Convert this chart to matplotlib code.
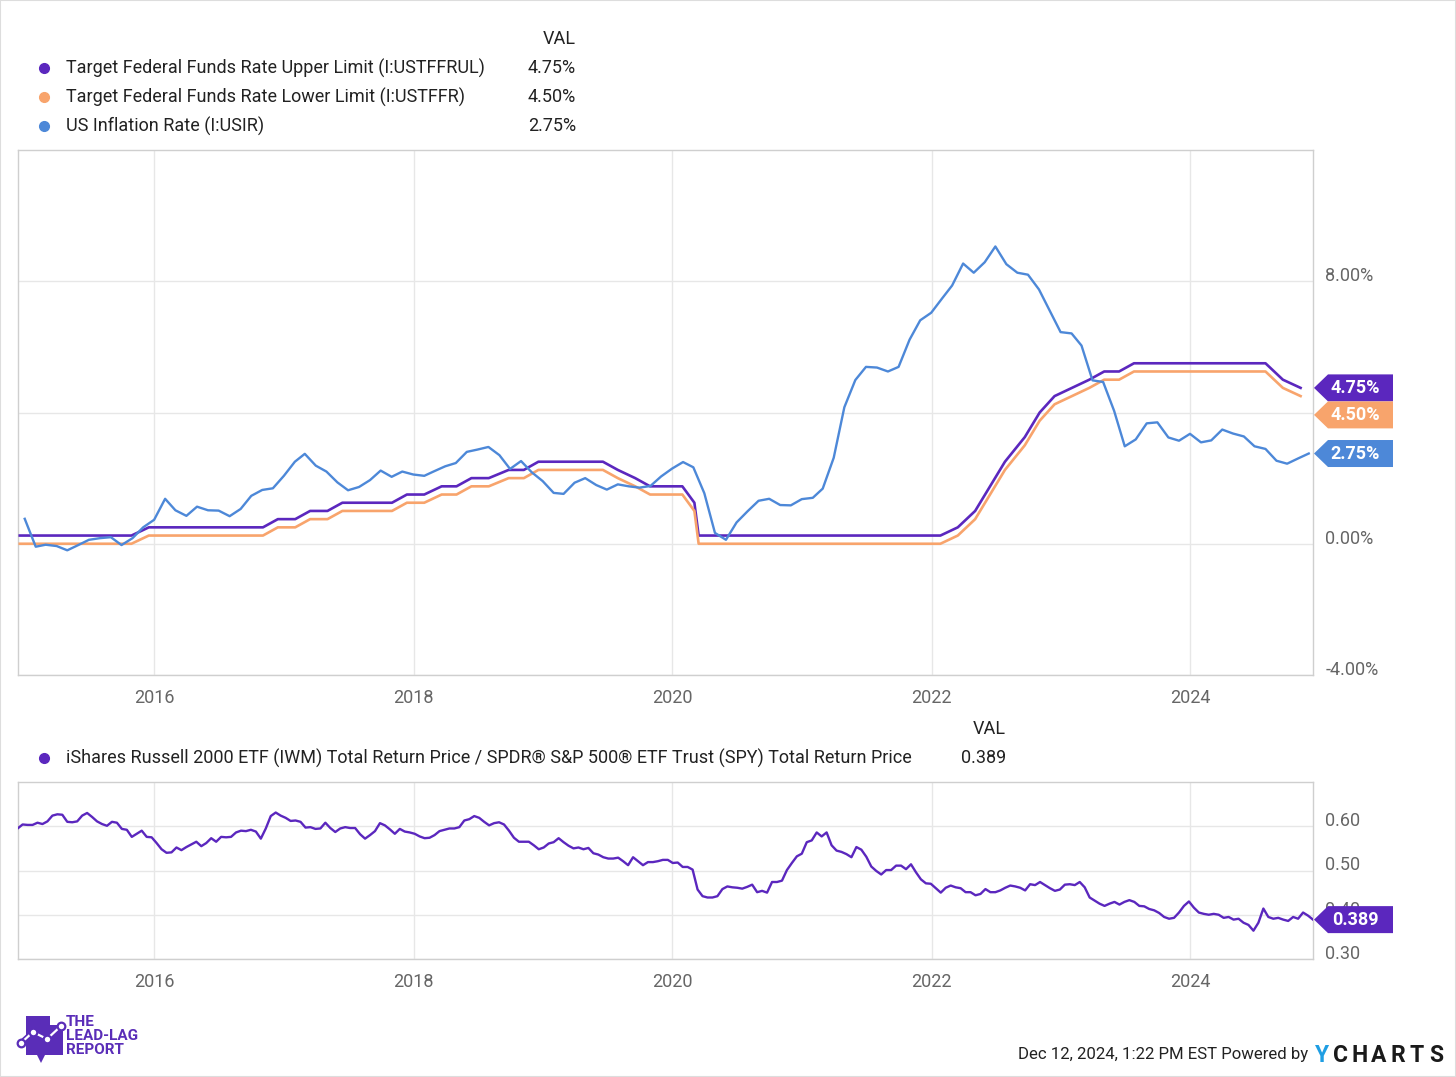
"""
plot.py
Fed funds target range vs US inflation, plus IWM/SPY total return ratio.
Rebuild of a YCharts style two panel chart.
"""

import matplotlib
matplotlib.use("Agg")
import numpy as np
import pandas as pd
import matplotlib.pyplot as plt
import matplotlib.dates as mdates
from matplotlib.patches import Polygon, Rectangle
from matplotlib.lines import Line2D

plt.rcParams["font.family"] = ["Roboto", "DejaVu Sans"]

# 1. Data

# FOMC decision dates, target range upper / lower limit (%)
fomc_dates = [
    "2014-12-17",
    "2015-01-28", "2015-03-18", "2015-04-29", "2015-06-17", "2015-07-29", "2015-09-17", "2015-10-28", "2015-12-16",
    "2016-01-27", "2016-03-16", "2016-04-27", "2016-06-15", "2016-07-27", "2016-09-21", "2016-11-02", "2016-12-14",
    "2017-02-01", "2017-03-15", "2017-05-03", "2017-06-14", "2017-07-26", "2017-09-20", "2017-11-01", "2017-12-13",
    "2018-01-31", "2018-03-21", "2018-05-02", "2018-06-13", "2018-08-01", "2018-09-26", "2018-11-08", "2018-12-19",
    "2019-01-30", "2019-03-20", "2019-05-01", "2019-06-19", "2019-07-31", "2019-09-18", "2019-10-30", "2019-12-11",
    "2020-01-29", "2020-03-03", "2020-03-15", "2020-04-29", "2020-06-10", "2020-07-29", "2020-09-16", "2020-11-05", "2020-12-16",
    "2021-01-27", "2021-03-17", "2021-04-28", "2021-06-16", "2021-07-28", "2021-09-22", "2021-11-03", "2021-12-15",
    "2022-01-26", "2022-03-16", "2022-05-04", "2022-06-15", "2022-07-27", "2022-09-21", "2022-11-02", "2022-12-14",
    "2023-02-01", "2023-03-22", "2023-05-03", "2023-06-14", "2023-07-26", "2023-09-20", "2023-11-01", "2023-12-13",
    "2024-01-31", "2024-03-20", "2024-05-01", "2024-06-12", "2024-07-31", "2024-09-18", "2024-11-07",
]

upper_limit = [
    0.25,
    0.25, 0.25, 0.25, 0.25, 0.25, 0.25, 0.25, 0.50,
    0.50, 0.50, 0.50, 0.50, 0.50, 0.50, 0.50, 0.75,
    0.75, 1.00, 1.00, 1.25, 1.25, 1.25, 1.25, 1.50,
    1.50, 1.75, 1.75, 2.00, 2.00, 2.25, 2.25, 2.50,
    2.50, 2.50, 2.50, 2.50, 2.25, 2.00, 1.75, 1.75,
    1.75, 1.25, 0.25, 0.25, 0.25, 0.25, 0.25, 0.25, 0.25,
    0.25, 0.25, 0.25, 0.25, 0.25, 0.25, 0.25, 0.25,
    0.25, 0.50, 1.00, 1.75, 2.50, 3.25, 4.00, 4.50,
    4.75, 5.00, 5.25, 5.25, 5.50, 5.50, 5.50, 5.50,
    5.50, 5.50, 5.50, 5.50, 5.50, 5.00, 4.75,
]

lower_limit = [
    0.00,
    0.00, 0.00, 0.00, 0.00, 0.00, 0.00, 0.00, 0.25,
    0.25, 0.25, 0.25, 0.25, 0.25, 0.25, 0.25, 0.50,
    0.50, 0.75, 0.75, 1.00, 1.00, 1.00, 1.00, 1.25,
    1.25, 1.50, 1.50, 1.75, 1.75, 2.00, 2.00, 2.25,
    2.25, 2.25, 2.25, 2.25, 2.00, 1.75, 1.50, 1.50,
    1.50, 1.00, 0.00, 0.00, 0.00, 0.00, 0.00, 0.00, 0.00,
    0.00, 0.00, 0.00, 0.00, 0.00, 0.00, 0.00, 0.00,
    0.00, 0.25, 0.75, 1.50, 2.25, 3.00, 3.75, 4.25,
    4.50, 4.75, 5.00, 5.00, 5.25, 5.25, 5.25, 5.25,
    5.25, 5.25, 5.25, 5.25, 5.25, 4.75, 4.50,
]

# US inflation rate (CPI yoy, %), monthly Dec 2014 .. Nov 2024
inflation_start = "2014-12-31"
inflation = [
    0.76,
    -0.09, -0.03, -0.07, -0.20, -0.04, 0.12, 0.17, 0.20, -0.04, 0.17, 0.50, 0.73,
    1.37, 1.02, 0.85, 1.13, 1.02, 1.01, 0.84, 1.06, 1.46, 1.64, 1.69, 2.07,
    2.50, 2.74, 2.38, 2.20, 1.87, 1.63, 1.73, 1.94, 2.23, 2.04, 2.20, 2.11,
    2.07, 2.21, 2.36, 2.46, 2.80, 2.87, 2.95, 2.70, 2.28, 2.52, 2.18, 1.91,
    1.55, 1.52, 1.86, 2.00, 1.79, 1.65, 1.81, 1.75, 1.71, 1.76, 2.05, 2.29,
    2.49, 2.33, 1.54, 0.33, 0.12, 0.65, 0.99, 1.31, 1.37, 1.18, 1.17, 1.36,
    1.40, 1.68, 2.62, 4.16, 4.99, 5.39, 5.37, 5.25, 5.39, 6.22, 6.81, 7.04,
    7.48, 7.87, 8.54, 8.26, 8.58, 9.06, 8.52, 8.26, 8.20, 7.75, 7.11, 6.45,
    6.41, 6.04, 4.98, 4.93, 4.05, 2.97, 3.18, 3.67, 3.70, 3.24, 3.14, 3.35,
    3.09, 3.15, 3.48, 3.36, 3.27, 2.97, 2.89, 2.53, 2.44, 2.60, 2.75,
]

# IWM / SPY total return price ratio, every two weeks from Dec 11 2014
ratio_start = "2014-12-11"
ratio = [
    0.595, 0.604, 0.603, 0.603, 0.608, 0.605, 0.611, 0.624, 0.627, 0.626,
    0.610, 0.609, 0.611, 0.624, 0.630, 0.621, 0.611, 0.605, 0.601, 0.610,
    0.608, 0.594, 0.592, 0.576, 0.583, 0.590, 0.576, 0.575, 0.562, 0.548,
    0.540, 0.541, 0.552, 0.546, 0.553, 0.559, 0.565, 0.555, 0.562, 0.573,
    0.565, 0.576, 0.575, 0.576, 0.586, 0.590, 0.589, 0.592, 0.588, 0.572,
    0.595, 0.623, 0.631, 0.624, 0.619, 0.612, 0.613, 0.610, 0.597, 0.598,
    0.594, 0.595, 0.608, 0.596, 0.587,
    0.595, 0.598, 0.596, 0.596, 0.582, 0.572, 0.580, 0.589, 0.607, 0.602,
    0.593, 0.583, 0.594, 0.588, 0.586, 0.583, 0.577, 0.573, 0.574, 0.580,
    0.589, 0.592, 0.595, 0.595, 0.598, 0.613, 0.616, 0.623, 0.619, 0.610,
    0.602, 0.607, 0.609, 0.604, 0.590, 0.574, 0.565, 0.565, 0.565, 0.557,
    0.548, 0.552, 0.561, 0.564, 0.573, 0.564, 0.556, 0.550, 0.552, 0.548,
    0.551, 0.539, 0.536, 0.530, 0.527, 0.527, 0.529, 0.521, 0.512, 0.530,
    0.521, 0.512, 0.519, 0.519, 0.521, 0.524,
    0.524, 0.517, 0.518, 0.508, 0.508, 0.502, 0.457, 0.442, 0.439, 0.439,
    0.442, 0.458, 0.464, 0.462, 0.461, 0.459, 0.463, 0.468, 0.451, 0.454,
    0.450, 0.474, 0.474, 0.477, 0.501, 0.517, 0.532, 0.538, 0.564, 0.568,
    0.586, 0.577, 0.586, 0.557, 0.545, 0.542, 0.537, 0.530, 0.553, 0.547,
    0.531, 0.509, 0.499, 0.491, 0.501, 0.501, 0.511, 0.511, 0.503, 0.514,
    0.496, 0.480, 0.471, 0.470, 0.460, 0.450, 0.461, 0.466, 0.462, 0.460,
    0.451, 0.451, 0.444, 0.447, 0.458,
    0.451, 0.451, 0.455, 0.461, 0.466, 0.464, 0.461, 0.455, 0.469, 0.467,
    0.474, 0.467, 0.460, 0.454, 0.457, 0.468, 0.469, 0.467, 0.474, 0.462,
    0.439, 0.432, 0.425, 0.420, 0.425, 0.429, 0.423, 0.429, 0.433, 0.429,
    0.420, 0.419, 0.413, 0.410, 0.404,
    0.395, 0.391, 0.393, 0.405, 0.420, 0.430, 0.416, 0.405, 0.402, 0.400,
    0.402, 0.400, 0.393, 0.395, 0.389, 0.391, 0.382, 0.377, 0.364, 0.382,
    0.414, 0.395, 0.391, 0.393, 0.389, 0.386, 0.395, 0.391, 0.405, 0.398,
    0.389,
]

top_labels = [
    "Target Federal Funds Rate Upper Limit (I:USTFFRUL)",
    "Target Federal Funds Rate Lower Limit (I:USTFFR)",
    "US Inflation Rate (I:USIR)",
]
top_values = ["4.75%", "4.50%", "2.75%"]
bottom_label = ("iShares Russell 2000 ETF (IWM) Total Return Price / "
                "SPDR® S&P 500® ETF Trust (SPY) Total Return Price")
bottom_value = "0.389"

fomc_idx = pd.to_datetime(fomc_dates)
infl_idx = pd.date_range(inflation_start, periods=len(inflation), freq="ME")
ratio_idx = pd.date_range(ratio_start, periods=len(ratio), freq="14D")

x_start = pd.Timestamp("2014-12-12")
x_end = pd.Timestamp("2024-12-12")

# 2. Style
PURPLE = "#5b27be"
ORANGE = "#f8a46c"
BLUE = "#4d88d8"
GRID = "#e7e7e7"
SPINE = "#cfcfcf"
TICK = "#666666"
TEXT = "#222222"
LEG_FS = 13

W, H = 1456, 1077


def fx(px):
    return px / W


def fy(py):
    return 1 - py / H


fig = plt.figure(figsize=(W / 100, H / 100), dpi=100)
fig.patch.set_facecolor("white")

ax1 = fig.add_axes([fx(18), fy(675), (1313 - 18) / W, (675 - 150) / H])
ax2 = fig.add_axes([fx(18), fy(959), (1313 - 18) / W, (959 - 782) / H])


def style_axis(ax, yticks, ylabels, ylim):
    ax.set_xlim(x_start, x_end)
    ax.set_ylim(*ylim)
    ax.set_yticks(yticks)
    ax.set_yticklabels(ylabels)
    ax.yaxis.tick_right()
    ax.xaxis.set_major_locator(mdates.YearLocator(2))
    ax.xaxis.set_major_formatter(mdates.DateFormatter("%Y"))
    ax.tick_params(axis="both", length=0, labelsize=13, labelcolor=TICK)
    ax.tick_params(axis="y", pad=9)
    ax.tick_params(axis="x", pad=10)
    for lab in ax.get_yticklabels():
        lab.set_verticalalignment("baseline")
    ax.grid(True, color=GRID, linewidth=1)
    ax.set_axisbelow(True)
    for sp in ax.spines.values():
        sp.set_color(SPINE)
        sp.set_linewidth(1)


# 3. Top panel (the 4.00% label sits under the value tags, so it stays blank)
ax1.plot(fomc_idx, upper_limit, color=PURPLE, linewidth=1.9, zorder=3)
ax1.plot(fomc_idx, lower_limit, color=ORANGE, linewidth=1.9, zorder=3)
ax1.plot(infl_idx, inflation, color=BLUE, linewidth=1.7, zorder=4)
style_axis(ax1, [-4, 0, 4, 8], ["-4.00%", "0.00%", "", "8.00%"], (-4, 12))

# 4. Bottom panel
ax2.plot(ratio_idx, ratio, color=PURPLE, linewidth=1.7, zorder=3)
style_axis(ax2, [0.3, 0.4, 0.5, 0.6], ["0.30", "0.40", "0.50", "0.60"], (0.30, 0.70))

# 5. Value tags at the right edge
fig.canvas.draw()
TAG_H, TAG_W, TAG_TIP = 27, 79, 14


def add_tags(ax, items):
    # items: (value, text, color), placed top-down without overlap
    right = ax.transAxes.transform((1, 0))[0] + 1
    ys = [ax.transData.transform((0, v))[1] for v, _, _ in items]
    order = np.argsort(ys)[::-1]
    last = None
    for i in order:
        y = ys[i]
        if last is not None and last - y < TAG_H:
            y = last - TAG_H
        last = y
        _, txt, col = items[i]
        verts = [
            (right, y),
            (right + TAG_TIP, y + TAG_H / 2),
            (right + TAG_W, y + TAG_H / 2),
            (right + TAG_W, y - TAG_H / 2),
            (right + TAG_TIP, y - TAG_H / 2),
        ]
        verts = [(vx / W, vy / H) for vx, vy in verts]
        fig.add_artist(Polygon(verts, closed=True, transform=fig.transFigure,
                               facecolor=col, edgecolor="none", zorder=5))
        fig.text((right + 41) / W, y / H, txt, color="white", fontsize=13,
                 fontweight="bold", ha="center", va="center", zorder=6)


add_tags(ax1, [(upper_limit[-1], top_values[0], PURPLE),
               (lower_limit[-1], top_values[1], ORANGE),
               (inflation[-1], top_values[2], BLUE)])
add_tags(ax2, [(ratio[-1], bottom_value, PURPLE)])

# 6. Legends
fig.text(fx(576), fy(39), "VAL", fontsize=LEG_FS, color=TEXT, ha="right", va="center")
for row, (lab, val, col) in enumerate(zip(top_labels, top_values, [PURPLE, ORANGE, BLUE])):
    yy = 68 + row * 29
    fig.add_artist(Line2D([fx(44)], [fy(yy)], marker="o", markersize=7,
                          color=col, linestyle="none", transform=fig.transFigure))
    fig.text(fx(66), fy(yy), lab, fontsize=LEG_FS, color=TEXT, va="center")
    fig.text(fx(576), fy(yy), val, fontsize=LEG_FS, color=TEXT, ha="right", va="center")

fig.text(fx(1006), fy(729), "VAL", fontsize=LEG_FS, color=TEXT, ha="right", va="center")
fig.add_artist(Line2D([fx(44)], [fy(758)], marker="o", markersize=7,
                      color=PURPLE, linestyle="none", transform=fig.transFigure))
fig.text(fx(66), fy(758), bottom_label, fontsize=LEG_FS, color=TEXT, va="center")
fig.text(fx(1006), fy(758), bottom_value, fontsize=LEG_FS, color=TEXT, ha="right", va="center")

# 7. Footer: logo, timestamp, ycharts mark
LOGO = "#5a2db8"
icon = [(26, 1016), (50, 1016), (50, 1025), (63, 1025), (63, 1055),
        (45, 1055), (41, 1063), (37, 1055), (26, 1055)]
fig.add_artist(Polygon([(fx(a), fy(b)) for a, b in icon], closed=True,
                       transform=fig.transFigure, facecolor=LOGO, edgecolor="none"))
path_x = [fx(21), fx(33), fx(47), fx(61)]
path_y = [fy(1043), fy(1032), fy(1039), fy(1026)]
fig.add_artist(Line2D(path_x, path_y, color=LOGO, linewidth=4, transform=fig.transFigure))
fig.add_artist(Line2D(path_x, path_y, color="white", linewidth=1.6, transform=fig.transFigure))
fig.add_artist(Line2D(path_x, path_y, marker="o", markersize=5.5, markerfacecolor="white",
                      markeredgecolor=LOGO, markeredgewidth=1.6, linestyle="none",
                      transform=fig.transFigure))
for i, word in enumerate(["THE", "LEAD-LAG", "REPORT"]):
    fig.text(fx(66), fy(1022 + i * 14), word, fontsize=11, fontweight="bold",
             color=LOGO, va="center", ha="left")

fig.text(fx(1308), fy(1055), "Dec 12, 2024, 1:22 PM EST Powered by", fontsize=12.1,
         color=TEXT, ha="right", va="center")
for i, ch in enumerate("YCHARTS"):
    fig.text(fx(1322 + i * 19), fy(1055), ch, fontsize=16.5, fontweight="bold",
             color="#1f9ee3" if i == 0 else "#1a1a1a",
             ha="center", va="center")

# outer frame
fig.add_artist(Rectangle((0, 0), 1, 1, transform=fig.transFigure, fill=False,
                         edgecolor="#dddddd", linewidth=1.5))

fig.savefig("out.png", dpi=100)
print("saved out.png")
